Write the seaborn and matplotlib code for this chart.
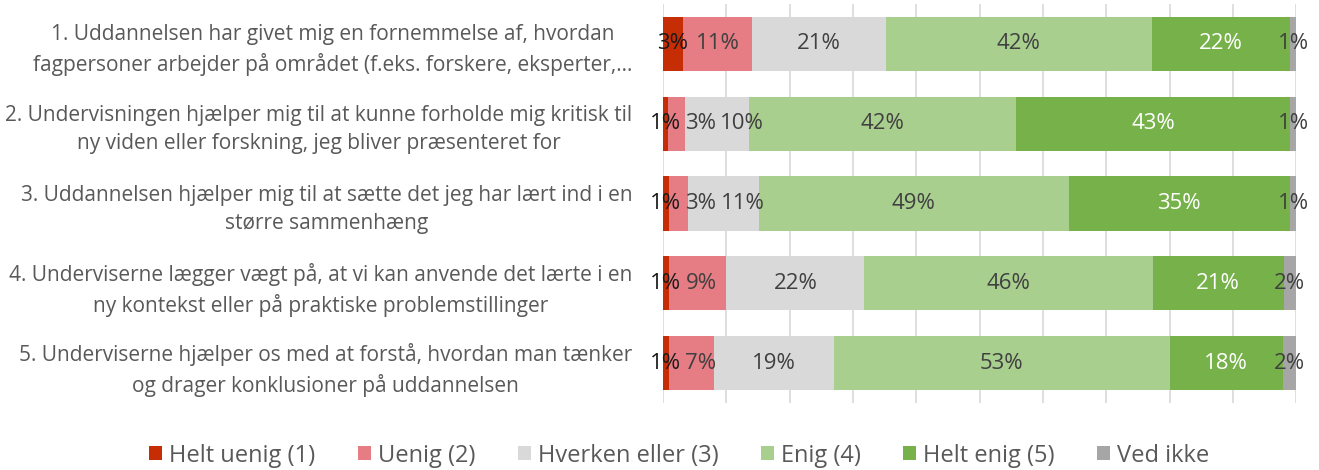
import numpy as np
import pandas as pd
import seaborn as sns
import matplotlib.pyplot as plt
from matplotlib.patches import Patch

sns.set_style('white')
plt.rcParams['font.family'] = ['Open Sans', 'DejaVu Sans']

# spørgsmål (y-akse)
questions = [
    "1. Uddannelsen har givet mig en fornemmelse af, hvordan\nfagpersoner arbejder på området (f.eks. forskere, eksperter,…",
    "2. Undervisningen hjælper mig til at kunne forholde mig kritisk til\nny viden eller forskning, jeg bliver præsenteret for",
    "3. Uddannelsen hjælper mig til at sætte det jeg har lært ind i en\nstørre sammenhæng",
    "4. Underviserne lægger vægt på, at vi kan anvende det lærte i en\nny kontekst eller på praktiske problemstillinger",
    "5. Underviserne hjælper os med at forstå, hvordan man tænker\nog drager konklusioner på uddannelsen",
]
categories = ["Helt uenig (1)", "Uenig (2)", "Hverken eller (3)", "Enig (4)", "Helt enig (5)", "Ved ikke"]

# andele i procent
helt_uenig = [3.1, 0.8, 0.9, 0.9, 0.9]
uenig = [11.0, 2.6, 3.1, 9.1, 7.1]
hverken = [21.1, 10.1, 11.1, 21.8, 19.0]
enig = [42.0, 42.3, 49.0, 45.6, 53.0]
helt_enig = [21.8, 43.2, 34.9, 20.6, 17.9]
ved_ikke = [1.0, 1.0, 1.0, 2.0, 2.1]

colors = ["#C62D05", "#E67C84", "#D9D9D9", "#A9CF8F", "#76B14A", "#A6A6A6"]
text_colors = ["#1A1A1A", "#404040", "#404040", "#404040", "#FFFFFF", "#404040"]

df = pd.DataFrame({'Spørgsmål': questions})
for cat, vals in zip(categories, [helt_uenig, uenig, hverken, enig, helt_enig, ved_ikke]):
    df[cat] = vals
cum = df[categories].cumsum(axis=1)

fig = plt.figure(figsize=(13.19, 4.70), dpi=100)
ax = fig.add_axes([0.5027, 0.1426, 0.48, 0.849])

# stablede bjælker: tegn de kumulative summer fra højre mod venstre
for j in range(len(categories) - 1, -1, -1):
    sns.barplot(x=cum[categories[j]], y=df['Spørgsmål'], color=colors[j], saturation=1,
                width=0.68, orient='h', linewidth=0, ax=ax, zorder=2)

ax.set_xlim(0, 100)
ax.set_ylim(len(questions) - 0.5, -0.5)
ax.set_xticks(np.arange(0, 101, 10))
ax.xaxis.grid(True, color='#D9D9D9', linewidth=1.2, zorder=0)
ax.set_axisbelow(True)
ax.tick_params(axis='x', labelbottom=False, length=0)
ax.tick_params(axis='y', length=0, pad=22, labelsize=15, labelcolor='#595959')
for t in ax.get_yticklabels():
    t.set_multialignment('center')
    t.set_linespacing(1.45)
ax.set_xlabel('')
ax.set_ylabel('')
for s in ax.spines.values():
    s.set_visible(False)

# dataetiketter
labels = []
for i in range(len(questions)):
    row = []
    for j, cat in enumerate(categories):
        v = df.loc[i, cat]
        xc = cum.loc[i, cat] - v / 2
        row.append(ax.text(xc, i, f"{v:.0f}%", ha='center', va='center', fontsize=16,
                           color=text_colors[j], zorder=5, clip_on=False))
    labels.append(row)

# skub overlappende etiketter til højre
fig.canvas.draw()
r = fig.canvas.get_renderer()
px_per_unit = ax.get_window_extent(r).width / 100
for row in labels:
    for k in range(1, len(row)):
        prev = row[k - 1].get_window_extent(r)
        cur = row[k].get_window_extent(r)
        if cur.x0 < prev.x1 + 4:
            x, y = row[k].get_position()
            row[k].set_x(x + (prev.x1 + 4 - cur.x0) / px_per_unit)

handles = [Patch(facecolor=c, edgecolor='none') for c in colors]
fig.legend(handles, categories, loc='lower center', bbox_to_anchor=(0.515, -0.04), ncol=6,
           frameon=False, fontsize=17, labelcolor='#595959', handlelength=0.55,
           handleheight=0.55, handletextpad=0.3, columnspacing=1.8)

fig.savefig('out.png', dpi=100)
